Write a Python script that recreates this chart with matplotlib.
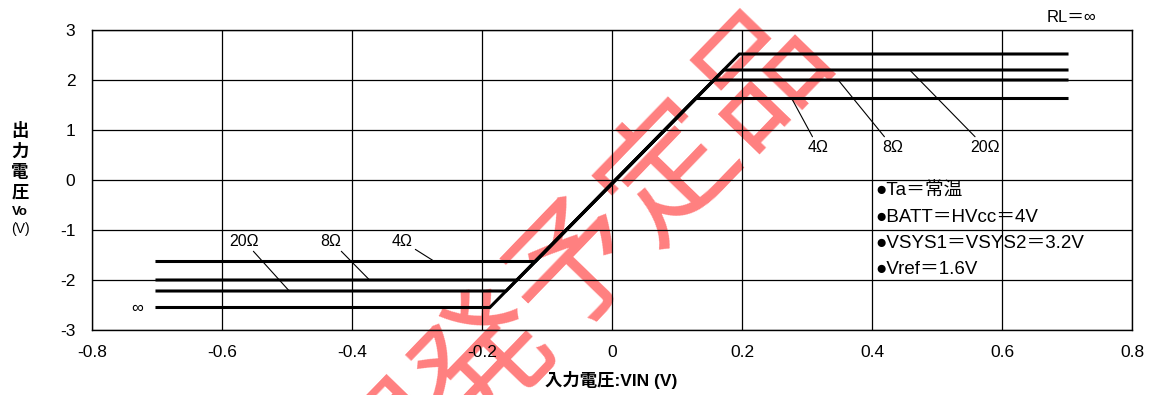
import numpy as np
import matplotlib
matplotlib.use("Agg")
import matplotlib.pyplot as plt

plt.rcParams['font.family'] = ['Liberation Sans', 'Noto Sans CJK JP', 'DejaVu Sans']
plt.rcParams['axes.unicode_minus'] = False

# ---------------------------
# data
# ---------------------------
loads = ["∞", "20Ω", "8Ω", "4Ω"]
# corner points of each transfer curve: x (V), y (V)
curve_x = {
    "∞":   [-0.70, -0.188, 0.196, 0.70],
    "20Ω": [-0.70, -0.163, 0.172, 0.70],
    "8Ω":  [-0.70, -0.146, 0.157, 0.70],
    "4Ω":  [-0.70, -0.118, 0.129, 0.70],
}
curve_y = {
    "∞":   [-2.55, -2.55, 2.52, 2.52],
    "20Ω": [-2.22, -2.22, 2.20, 2.20],
    "8Ω":  [-2.00, -2.00, 2.00, 2.00],
    "4Ω":  [-1.63, -1.63, 1.63, 1.63],
}
x_ticks = [-0.8, -0.6, -0.4, -0.2, 0, 0.2, 0.4, 0.6, 0.8]
x_tick_labels = ["-0.8", "-0.6", "-0.4", "-0.2", "0", "0.2", "0.4", "0.6", "0.8"]
y_ticks = [-3, -2, -1, 0, 1, 2, 3]
conditions = ["●Ta＝常温", "●BATT＝HVcc＝4V", "●VSYS1＝VSYS2＝3.2V", "●Vref＝1.6V"]

# ---------------------------
# figure
# ---------------------------
fig = plt.figure(figsize=(11.54, 3.95), dpi=100)
ax = fig.add_axes([92 / 1154, 1 - 330 / 395, 1040 / 1154, 300 / 395])
ax.patch.set_visible(False)  # let the watermark show underneath the lines

for name in loads:
    ax.plot(curve_x[name], curve_y[name], color="black", lw=2.2,
            solid_joinstyle="miter", zorder=3)

ax.set_xlim(-0.8, 0.8)
ax.set_ylim(-3, 3)
ax.set_xticks(x_ticks)
ax.set_xticklabels(x_tick_labels)
ax.set_yticks(y_ticks)
ax.grid(True, color="black", lw=0.9)
ax.tick_params(length=0, labelsize=12.5)
ax.tick_params(axis="x", pad=11)
ax.tick_params(axis="y", pad=12)
for s in ax.spines.values():
    s.set_linewidth(1.0)

# leader labels (right side)
lbl = dict(fontsize=11.5, ha="center", va="center")
arrow = dict(arrowstyle="-", color="black", lw=0.8, shrinkA=0, shrinkB=0)
ax.annotate("4Ω", xy=(0.2765, 1.63), xytext=(0.317, 0.66), arrowprops=arrow, **lbl)
ax.annotate("8Ω", xy=(0.348, 2.00), xytext=(0.432, 0.66), arrowprops=arrow, **lbl)
ax.annotate("20Ω", xy=(0.458, 2.20), xytext=(0.574, 0.66), arrowprops=arrow, **lbl)

# leader labels (left side)
ax.annotate("20Ω", xy=(-0.4965, -2.22), xytext=(-0.566, -1.22), arrowprops=arrow, **lbl)
ax.annotate("8Ω", xy=(-0.373, -2.00), xytext=(-0.432, -1.22), arrowprops=arrow, **lbl)
ax.annotate("4Ω", xy=(-0.273, -1.63), xytext=(-0.323, -1.22), arrowprops=arrow, **lbl)
ax.text(-0.731, -2.57, "∞", fontsize=12, ha="center", va="center")

# conditions
for i, c in enumerate(conditions):
    ax.text(0.4046, -0.22 - 0.52 * i, c, fontsize=13.5, ha="left", va="center")

fig.text(1072 / 1154, 1 - 17 / 395, "RL＝∞", fontsize=12, ha="center", va="center")

# axis titles
for i, ch in enumerate(["出", "力", "電", "圧"]):
    fig.text(20 / 1154, 1 - (131 + 20.5 * i) / 395, ch, fontsize=12.5,
             fontweight="bold", ha="center", va="center")
fig.text(20 / 1154, 1 - 212 / 395, "Vo", fontsize=9.5, fontweight="bold",
         ha="center", va="center")
fig.text(20 / 1154, 1 - 229 / 395, "(V)", fontsize=10, ha="center", va="center")
fig.text(611 / 1154, 1 - 380 / 395, "入力電圧:VIN (V)", fontsize=12.5,
         fontweight="bold", ha="center", va="center")

# watermark (cut off at the bottom edge, as in the reference)
fig.text(577 / 1154, 1 - 262 / 395, "開発予定品", fontsize=95, color="red",
         alpha=0.5, rotation=46, ha="center", va="center",
         family=["Noto Sans CJK JP"], zorder=-1)

fig.savefig("out.png", dpi=100)
